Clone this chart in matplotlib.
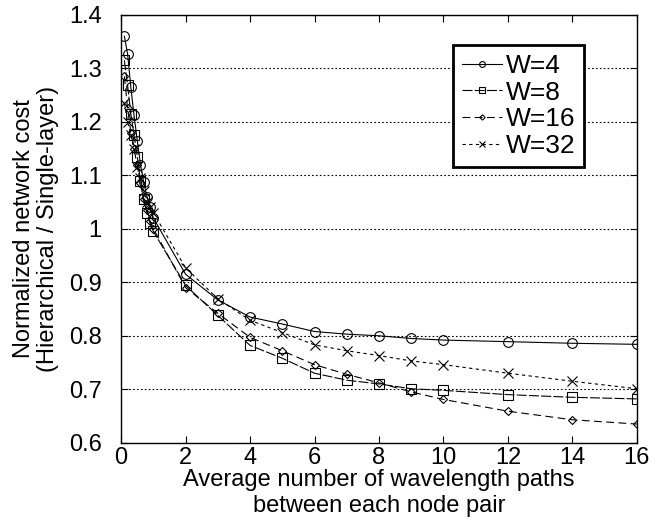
import matplotlib
matplotlib.use("Agg")
from matplotlib import pyplot as plt

plt.rcParams['font.family'] = ['Liberation Sans', 'DejaVu Sans']

# x positions (average number of wavelength paths)
x_vals = [0.1, 0.2, 0.3, 0.4, 0.5, 0.6, 0.7, 0.8, 0.9, 1.0,
          2, 3, 4, 5, 6, 7, 8, 9, 10, 12, 14, 16]

w4 = [1.36, 1.327, 1.265, 1.212, 1.165, 1.12, 1.087, 1.06, 1.04, 1.02,
      0.915, 0.867, 0.835, 0.822, 0.808, 0.803, 0.800, 0.795, 0.792, 0.789, 0.786, 0.784]
w8 = [1.315, 1.268, 1.215, 1.175, 1.135, 1.09, 1.055, 1.03, 1.01, 0.995,
      0.894, 0.838, 0.782, 0.758, 0.730, 0.717, 0.710, 0.701, 0.698, 0.690, 0.685, 0.682]
w16 = [1.285, 1.225, 1.18, 1.15, 1.12, 1.085, 1.055, 1.035, 1.015, 1.0,
       0.890, 0.842, 0.797, 0.772, 0.746, 0.728, 0.712, 0.695, 0.681, 0.659, 0.643, 0.635]
w32 = [1.235, 1.2, 1.175, 1.15, 1.115, 1.095, 1.07, 1.05, 1.04, 1.03,
       0.927, 0.869, 0.829, 0.806, 0.783, 0.772, 0.763, 0.753, 0.746, 0.730, 0.715, 0.701]

labels = ["W=4", "W=8", "W=16", "W=32"]

fig = plt.figure(figsize=(6.62, 5.29), dpi=100)
ax = fig.add_axes([0.183, 0.163, 0.779, 0.809])

ax.plot(x_vals, w4, color='k', linewidth=0.8, linestyle='-', marker='o',
        markersize=7, markerfacecolor='none', markeredgewidth=0.8, label=labels[0])
ax.plot(x_vals, w8, color='k', linewidth=0.8, linestyle=(0, (9, 2)), marker='s',
        markersize=7, markerfacecolor='none', markeredgewidth=0.8, label=labels[1])
ax.plot(x_vals, w16, color='k', linewidth=0.8, linestyle=(0, (7, 4)), marker='D',
        markersize=4.5, markerfacecolor='none', markeredgewidth=0.8, label=labels[2])
ax.plot(x_vals, w32, color='k', linewidth=0.8, linestyle=(0, (3, 3)), marker='x',
        markersize=7, markeredgewidth=0.8, label=labels[3])

ax.set_xlim(0, 16)
ax.set_ylim(0.6, 1.4)
ax.set_xticks(range(0, 17, 2))
ax.set_yticks([0.6, 0.7, 0.8, 0.9, 1.0, 1.1, 1.2, 1.3, 1.4])
ax.set_yticklabels(["0.6", "0.7", "0.8", "0.9", "1", "1.1", "1.2", "1.3", "1.4"])
ax.yaxis.grid(True, color='k', linestyle=(0, (1.5, 2)), linewidth=0.8)
ax.tick_params(direction='in', length=5, top=True, right=True, labelsize=17)
ax.tick_params(axis='x', pad=3)
ax.tick_params(axis='y', pad=14)
for s in ax.spines.values():
    s.set_linewidth(1.0)

ax.set_xlabel("Average number of wavelength paths\nbetween each node pair", fontsize=17,
              linespacing=1.25, labelpad=0)
ax.set_ylabel("Normalized network cost\n(Hierarchical / Single-layer)", fontsize=17,
              linespacing=1.1, labelpad=7)

leg = ax.legend(loc='upper left', bbox_to_anchor=(0.643, 0.93), fontsize=19,
                fancybox=False, framealpha=1, edgecolor='k', handlelength=1.5,
                handletextpad=0.15, borderpad=0.35, borderaxespad=0, labelspacing=0.1,
                markerscale=0.6)
leg.get_frame().set_linewidth(2)

fig.savefig("out.png", dpi=100)
